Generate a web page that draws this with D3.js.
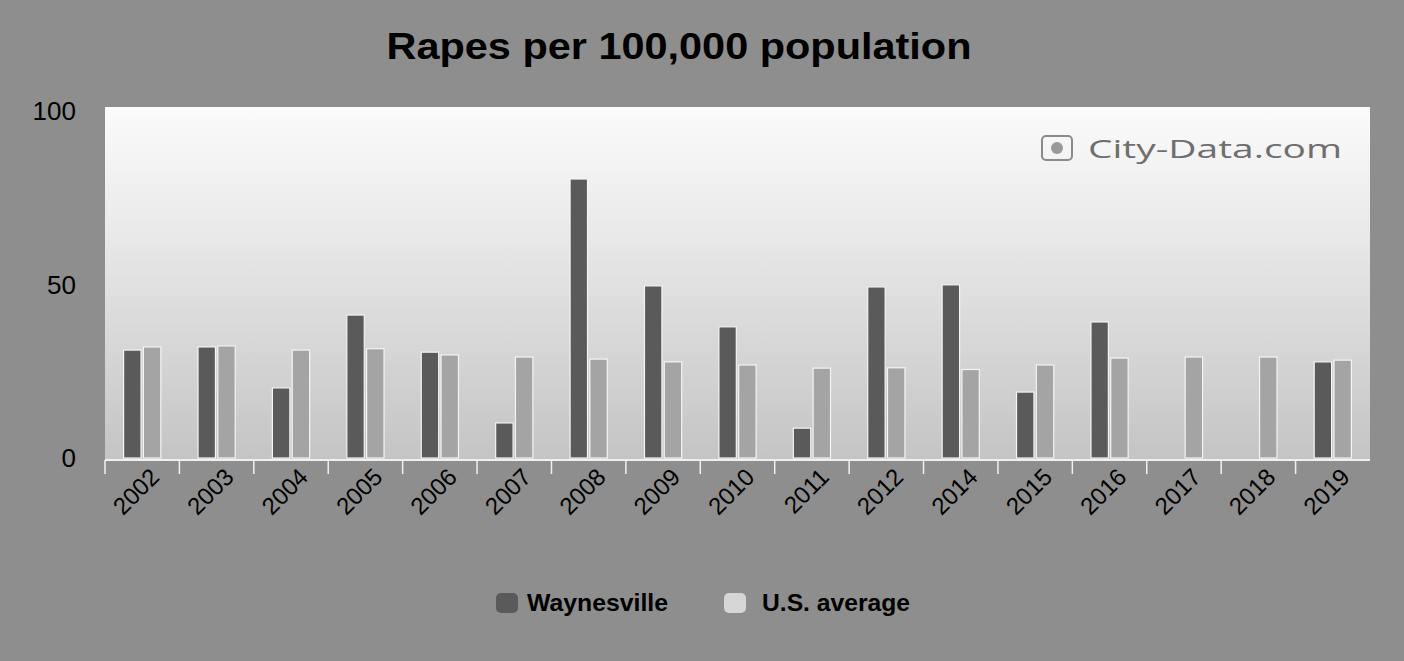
<!DOCTYPE html>
<html><head><meta charset="utf-8">
<script src="https://cdn.jsdelivr.net/npm/d3@7/dist/d3.min.js"></script>
<style>html,body{margin:0;padding:0;background:#8e8e8e;}svg{display:block;}</style>
</head><body>
<svg id="chart" width="1404" height="661"></svg>
<script>
const years = ["2002","2003","2004","2005","2006","2007","2008","2009","2010","2011","2012","2014","2015","2016","2017","2018","2019"];
const waynesville = [31.1, 32.0, 20.2, 41.2, 30.5, 10.1, 80.4, 49.6, 37.8, 8.6, 49.3, 49.9, 19.0, 39.2, null, null, 27.7];
const usAverage = [32.0, 32.3, 31.1, 31.5, 29.7, 29.1, 28.5, 27.7, 26.8, 25.9, 26.0, 25.5, 26.8, 28.8, 29.1, 29.1, 28.2];
const yTicks = [0, 50, 100];
const seriesNames = ["Waynesville", "U.S. average"];
const titleText = "Rapes per 100,000 population";

const svg = d3.select("#chart");
const W = 1404, H = 661;
const plot = {left: 105, right: 1370, top: 107, bottom: 460};
const font = "'Liberation Sans', Arial, sans-serif";

svg.append("rect").attr("width", W).attr("height", H).attr("fill", "#8e8e8e");

const defs = svg.append("defs");
const grad = defs.append("linearGradient").attr("id", "bg").attr("x1", 0).attr("y1", 0).attr("x2", 0).attr("y2", 1);
grad.append("stop").attr("offset", "0%").attr("stop-color", "#fbfbfb");
grad.append("stop").attr("offset", "30%").attr("stop-color", "#ececec");
grad.append("stop").attr("offset", "100%").attr("stop-color", "#c4c4c4");

svg.append("rect").attr("x", plot.left).attr("y", plot.top)
  .attr("width", plot.right - plot.left).attr("height", plot.bottom - plot.top)
  .attr("fill", "url(#bg)");

const x0 = d3.scaleBand().domain(years).range([plot.left, plot.right]).paddingInner(0.5).paddingOuter(0.25);
const x1 = d3.scaleBand().domain(seriesNames).range([0, x0.bandwidth()]).paddingInner(0.12);
const y = d3.scaleLinear().domain([0, 100]).range([458, 111]);

// title
svg.append("text").attr("x", 679).attr("y", 59).attr("text-anchor", "middle")
  .attr("font-family", font).attr("font-weight", "bold").attr("font-size", 36)
  .attr("textLength", 585).attr("lengthAdjust", "spacingAndGlyphs")
  .attr("fill", "#000").text(titleText);

// watermark
const wm = svg.append("g").attr("transform", "translate(1040,132)");
wm.append("rect").attr("x", 2).attr("y", 4).attr("width", 30).attr("height", 24).attr("rx", 4)
  .attr("fill", "none").attr("stroke", "#8a8a8a").attr("stroke-width", 2);
wm.append("circle").attr("cx", 17).attr("cy", 16).attr("r", 6).attr("fill", "#9a9a9a");
svg.append("text").attr("x", 1088).attr("y", 158)
  .attr("font-family", "'Open Sans', 'DejaVu Sans', sans-serif").attr("font-size", 26)
  .attr("textLength", 254).attr("lengthAdjust", "spacingAndGlyphs")
  .attr("fill", "#6e6e6e").text("City-Data.com");

// bars
const groups = svg.append("g").selectAll("g").data(years).join("g")
  .attr("transform", d => `translate(${x0(d)},0)`);
groups.append("rect")
  .datum((d, i) => waynesville[i])
  .filter(v => v != null)
  .attr("x", x1("Waynesville")).attr("width", x1.bandwidth())
  .attr("y", v => y(v)).attr("height", v => y(0) - y(v))
  .attr("fill", "#5a5a5a").attr("stroke", "#f4f4f4").attr("stroke-width", 1.2);
groups.append("rect")
  .datum((d, i) => usAverage[i])
  .attr("x", x1("U.S. average")).attr("width", x1.bandwidth())
  .attr("y", v => y(v)).attr("height", v => y(0) - y(v))
  .attr("fill", "#a4a4a4").attr("stroke", "#f4f4f4").attr("stroke-width", 1.2);

// x axis with white tick marks at band edges
const edges = years.map(d => x0(d) - x0.step() * x0.paddingInner() / 2);
svg.append("g").selectAll("line").data(edges).join("line")
  .attr("x1", d => d).attr("x2", d => d).attr("y1", plot.bottom).attr("y2", plot.bottom + 14)
  .attr("stroke", "#f0f0f0").attr("stroke-width", 1.5);
svg.append("line").attr("x1", plot.left).attr("x2", plot.right).attr("y1", plot.bottom).attr("y2", plot.bottom)
  .attr("stroke", "#f0f0f0").attr("stroke-width", 2);

svg.append("g").selectAll("text").data(years).join("text")
  .attr("transform", d => `translate(${x0(d) + x0.bandwidth() / 2 + 14},474) rotate(-45)`)
  .attr("text-anchor", "end").attr("dominant-baseline", "middle")
  .attr("font-family", font).attr("font-size", 24).attr("fill", "#000")
  .text(d => d);

// y axis labels
svg.append("g").selectAll("text").data(yTicks).join("text")
  .attr("x", 76).attr("y", d => y(d)).attr("dy", "0.36em")
  .attr("text-anchor", "end").attr("font-family", font).attr("font-size", 26).attr("fill", "#000")
  .text(d => d);

// legend
const legend = svg.append("g");
legend.append("rect").attr("x", 496).attr("y", 593).attr("width", 22).attr("height", 20).attr("rx", 5)
  .attr("fill", "#5a5a5a");
legend.append("text").attr("x", 527).attr("y", 611)
  .attr("font-family", font).attr("font-weight", "bold").attr("font-size", 24)
  .attr("textLength", 141).attr("lengthAdjust", "spacingAndGlyphs").text(seriesNames[0]);
legend.append("rect").attr("x", 724).attr("y", 593).attr("width", 22).attr("height", 20).attr("rx", 5)
  .attr("fill", "#d6d6d6");
legend.append("text").attr("x", 762).attr("y", 611)
  .attr("font-family", font).attr("font-weight", "bold").attr("font-size", 24)
  .attr("textLength", 148).attr("lengthAdjust", "spacingAndGlyphs").text(seriesNames[1]);
</script>
</body></html>
